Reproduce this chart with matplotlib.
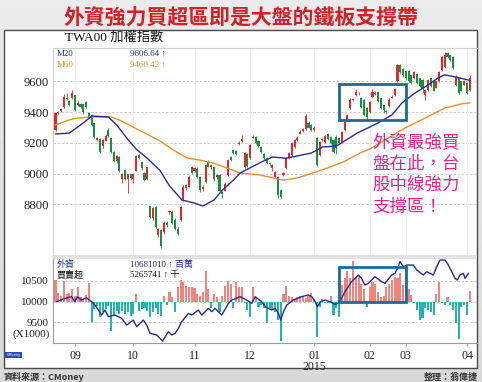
import numpy as np
import matplotlib
matplotlib.use("Agg")
import matplotlib.pyplot as plt
from matplotlib.patches import Rectangle

W, H = 482, 382


def fx(px):
    return px / W


def fy(py):
    return 1 - py / H


# 加權指數 K線 (依交易日順序: 開 收 高 低)
opens = [9284, 9392, 9418, 9436, 9495, 9475, 9490, 9512, 9450, 9451,
         9451, 9468, 9393, 9380, 9328, 9219, 9223, 9178, 9214, 9284,
         9230, 9143, 9084, 9106, 8967, 9023, 8968, 8995, 8968, 9019,
         9121, 9078, 9002, 8967, 8789, 8710, 8784, 8600, 8635, 8620,
         8680, 8750, 8752, 8700, 8640, 8698, 8828, 8925, 8915, 9040,
         9020, 9030, 8980, 8900, 8947, 9078, 9040, 9045, 8975, 8990,
         8880, 8890, 8991, 9110, 9154, 9150, 9190, 9210, 9043, 9130,
         9100, 9235, 9238, 9215, 9173, 9130, 9100, 9070, 9036, 8980,
         8978, 8893, 8990, 9036, 9102, 9121, 9173, 9220, 9260, 9280,
         9290, 9330, 9315, 9285, 9232, 9121, 9218, 9206, 9260, 9240,
         9219, 9240, 9230, 9206, 9284, 9349, 9427, 9478, 9512, 9522,
         9492, 9480, 9430, 9401, 9500, 9520, 9531, 9490, 9447, 9410,
         9440, 9495, 9512, 9600, 9707, 9680, 9670, 9670, 9640, 9623,
         9650, 9620, 9610, 9512, 9545, 9620, 9610, 9560, 9600, 9675,
         9695, 9786, 9770, 9760, 9578, 9623, 9600, 9580, 9590, 9545]
closes = [9394, 9398, 9410, 9497, 9485, 9447, 9527, 9414, 9460, 9432,
          9400, 9436, 9367, 9315, 9236, 9230, 9143, 9217, 9245, 9245,
          9143, 9084, 9115, 9019, 8997, 8967, 8995, 8970, 8997, 9115,
          9100, 9034, 8958, 9041, 8719, 8776, 8654, 8639, 8530, 8677,
          8665, 8755, 8676, 8640, 8610, 8784, 8915, 8905, 8980, 9004,
          9036, 8980, 8893, 8915, 9056, 9045, 9055, 8965, 8990, 8890,
          8865, 8935, 9088, 9090, 9132, 9130, 9200, 9225, 9134, 9050,
          9186, 9240, 9200, 9180, 9140, 9100, 9070, 9060, 9056, 9010,
          8860, 8850, 9004, 9100, 9134, 9200, 9219, 9235, 9270, 9290,
          9375, 9300, 9285, 9300, 9056, 9206, 9222, 9245, 9225, 9200,
          9141, 9170, 9200, 9271, 9336, 9382, 9480, 9484, 9531, 9526,
          9434, 9382, 9369, 9467, 9531, 9524, 9470, 9427, 9414, 9398,
          9480, 9500, 9551, 9707, 9660, 9640, 9620, 9600, 9590, 9662,
          9590, 9570, 9551, 9545, 9610, 9570, 9540, 9600, 9662, 9760,
          9773, 9760, 9740, 9685, 9630, 9525, 9540, 9600, 9525, 9623]
highs = [9400, 9410, 9425, 9519, 9522, 9480, 9545, 9515, 9470, 9458,
         9455, 9475, 9400, 9385, 9330, 9240, 9230, 9225, 9255, 9295,
         9235, 9150, 9120, 9112, 9005, 9030, 9000, 9000, 9005, 9120,
         9130, 9085, 9010, 9045, 8795, 8785, 8790, 8645, 8640, 8690,
         8690, 8765, 8760, 8710, 8650, 8790, 8925, 8935, 8990, 9050,
         9045, 9040, 8985, 8925, 9065, 9090, 9065, 9050, 9000, 8995,
         8885, 8945, 9095, 9115, 9160, 9155, 9210, 9250, 9140, 9135,
         9195, 9250, 9245, 9220, 9180, 9135, 9105, 9075, 9065, 9020,
         8985, 8900, 9010, 9105, 9140, 9205, 9225, 9245, 9284, 9300,
         9390, 9340, 9320, 9310, 9240, 9212, 9230, 9251, 9265, 9245,
         9225, 9250, 9240, 9278, 9345, 9390, 9490, 9492, 9548, 9532,
         9500, 9485, 9435, 9475, 9550, 9535, 9540, 9495, 9450, 9415,
         9490, 9510, 9560, 9715, 9712, 9685, 9675, 9675, 9645, 9670,
         9655, 9625, 9615, 9550, 9615, 9625, 9615, 9605, 9670, 9768,
         9790, 9795, 9775, 9765, 9640, 9628, 9605, 9608, 9595, 9640]
lows = [9278, 9385, 9400, 9430, 9480, 9440, 9485, 9405, 9440, 9425,
        9390, 9425, 9360, 9310, 9230, 9210, 9135, 9170, 9210, 9240,
        9135, 9075, 9070, 9010, 8936, 8960, 8872, 8960, 8940, 9015,
        9095, 9025, 8950, 8960, 8712, 8700, 8645, 8590, 8515, 8610,
        8655, 8740, 8670, 8630, 8600, 8690, 8820, 8895, 8910, 8995,
        9010, 8970, 8880, 8890, 8940, 9040, 9030, 8955, 8965, 8880,
        8841, 8885, 8985, 9085, 9125, 9120, 9185, 9205, 9035, 9040,
        9095, 9230, 9195, 9175, 9135, 9090, 9060, 9050, 9020, 8970,
        8841, 8840, 8985, 9030, 9095, 9115, 9165, 9215, 9255, 9270,
        9285, 9295, 9280, 9280, 9050, 9115, 9210, 9200, 9220, 9195,
        9135, 9125, 9195, 9200, 9280, 9345, 9420, 9470, 9505, 9515,
        9425, 9375, 9350, 9395, 9495, 9512, 9465, 9420, 9395, 9390,
        9435, 9490, 9505, 9595, 9650, 9630, 9612, 9595, 9585, 9618,
        9585, 9565, 9525, 9480, 9540, 9565, 9535, 9555, 9595, 9670,
        9690, 9755, 9735, 9680, 9570, 9520, 9535, 9575, 9520, 9540]

# 均線 (讀圖取點: 交易日序號, 指數)
ma20_idx = [0, 5, 10, 13, 19, 22, 25.6, 29, 33, 37.6, 41, 45.5, 50, 53, 57, 60,
            64, 66.4, 74, 78, 83, 92, 96, 101, 103.4, 108.5, 113, 116, 121,
            124.6, 129.3, 134, 137.6, 140, 143.7, 149]
ma20_val = [9258, 9264, 9330, 9375, 9369, 9317, 9232, 9160, 9100, 9020, 8920,
            8828, 8808, 8789, 8828, 8893, 8958, 9004, 9075, 9108, 9100, 9134,
            9173, 9180, 9206, 9264, 9303, 9330, 9382, 9460, 9525, 9577, 9623,
            9643, 9630, 9607]
ma60_idx = [0, 6, 12, 20, 23, 30, 37.6, 42.3, 47.3, 52, 56.7, 61.7, 66.4, 73.6,
            81.8, 86.9, 92.6, 97.7, 103.4, 109.5, 113, 118.5, 125.7, 133, 140,
            146.2, 149]
ma60_val = [9317, 9356, 9369, 9369, 9349, 9284, 9213, 9154, 9102, 9088, 9069,
            9036, 9004, 8991, 8958, 8971, 9004, 9036, 9075, 9134, 9160, 9219,
            9297, 9362, 9427, 9455, 9460]

# 外資買賣超 (相對 10000 基準)
net_buy = [532, 210, 145, 508, 185, 210, 307, 145, 347, 105,
           65, 161, 452, -500, -178, -97, -379, -242, -178, -97,
           -702, -339, -218, -299, -218, -299, -258, -339, -299, 185,
           -218, -178, -160, -225, -379, -242, -160, -285, -339, 129,
           -80, 242, 105, -260, 347, 532, 484, 387, 347, 347,
           323, 185, 145, 242, 750, 307, -161, 185, 105, -242,
           145, 387, 508, 428, -161, 468, 347, 347, -40, -202,
           -363, 347, 105, -121, -80, -161, -524, -161, -202, -242,
           -444, -944, 185, 387, 145, 105, 65, 105, 145, 105,
           81, 161, 210, 65, -863, -121, 65, -40, -40, 129,
           -323, -161, -363, 403, 565, 750, 565, 993, 605, 645,
           428, 307, -121, 347, 468, 428, 226, 105, 145, 347,
           428, 525, 605, 565, 684, 403, 870, 307, 161, -40,
           -202, -444, -404, -161, -202, -242, -323, 187, 468, -40,
           -80, 105, -80, -202, -524, -904, -121, -80, -323, 266]

# 外資持股曲線 (讀圖取點)
hold_idx = [0.4, 3.4, 5.8, 7, 7.8, 9.4, 11, 13, 14.2, 15.4, 16.6, 17.8, 19,
            21.4, 23.8, 25.6, 28, 29.2, 31.6, 32.8, 34, 36.4, 37.6, 38.5, 40.6,
            41.8, 43, 44.2, 45.4, 47.8, 49, 51.4, 52.6, 55, 56.2, 57.4, 59.8,
            62.2, 63.4, 66.4, 69.4, 70.6, 71.8, 74.2, 75.4, 77.8, 79, 80.2, 81,
            82, 83.2, 85.5, 88.5, 91, 92.2, 93.4, 94.2, 95.2, 97, 98.7, 100.5,
            101.7, 102.9, 104.1, 105.3, 106.5, 107.7, 108.9, 110.1, 111.3,
            112.5, 114.9, 117.3, 118.5, 120.9, 122.1, 123, 123.9, 125.1, 126.3,
            128.7, 129.9, 132.3, 133.5, 135.9, 137.1, 138.3, 140.1, 141.3,
            142.5, 143.7, 144.5, 145.5, 146.7, 147.3, 148.5]
hold_val = [10000, 10080, 10121, 10000, 10121, 10040, 10097, 10000, 9920, 9799,
            9678, 9799, 9638, 9678, 9598, 9436, 9557, 9396, 9557, 9436, 9235,
            9195, 9115, 9050, 9275, 9195, 9235, 9356, 9517, 9718, 9678, 9799,
            9678, 9839, 9759, 9839, 9678, 9960, 10040, 10121, 10016, 9960,
            10121, 10000, 9879, 9799, 9839, 9718, 9557, 9759, 9920, 10040,
            10121, 10161, 10121, 10000, 9879, 10000, 10040, 10000, 9936, 9960,
            10080, 10241, 10362, 10483, 10563, 10644, 10563, 10402, 10443,
            10604, 10483, 10443, 10644, 10684, 10805, 10966, 10845, 10885,
            10885, 10765, 10644, 10724, 10644, 10845, 11006, 11006, 10885,
            10724, 10563, 10523, 10644, 10684, 10563, 10684]

month_labels = ['09', '10', '11', '12', '01\n2015', '02', '03', '04']
month_start = [7, 28, 50, 70, 93, 113, 126, 148]
price_ticks = [8800, 9000, 9200, 9400, 9600]
flow_ticks = [9500, 10000, 10500]

serif = ['Liberation Serif', 'DejaVu Sans', 'Noto Sans CJK TC']
cjk = ['Noto Sans CJK TC', 'DejaVu Sans']
RED = '#e4262b'
GREEN = '#1d8c3e'
NAVY = '#2a2a92'
ORANGE = '#e8902a'
BOXC = '#1b6a98'

fig = plt.figure(figsize=(W / 100, H / 100), dpi=100)

# 背景與白底面板
bg = fig.add_axes([0, 0, 1, 1], zorder=-5)
bg.imshow(np.linspace(0.92, 0.85, 100).reshape(-1, 1), cmap='gray', vmin=0, vmax=1,
          aspect='auto', extent=[0, W, H, 0])
bg.add_patch(Rectangle((4, 30), 473, 338, fc='white', ec='#4a4a4a', lw=1))
bg.add_patch(Rectangle((53, 255), 424, 4, fc='#e2e2e2', ec='none'))
bg.set_xlim(0, W)
bg.set_ylim(H, 0)
bg.axis('off')

x = np.arange(len(opens))
o = np.array(opens)
c = np.array(closes)
cols = np.where(c >= o, RED, GREEN)

# 上圖: K線
ax = fig.add_axes([fx(53), fy(257), fx(477) - fx(53), (257 - 48) / H])
ax.set_facecolor('none')
for t in price_ticks:
    ax.axhline(t, color='#c4c4c4', lw=0.6, ls=(0, (3, 2)), zorder=0)
for m in month_start:
    ax.axvline(m, color='#ededed', lw=0.6, zorder=0)
ax.vlines(x, lows, highs, colors=cols, lw=0.6, zorder=2)
body = np.maximum(np.abs(c - o), 6)
ax.bar(x, body, bottom=np.minimum(o, c), width=0.75, color=cols, lw=0, zorder=3)
ax.plot(ma60_idx, ma60_val, color=ORANGE, lw=1.0, zorder=4)
ax.plot(ma20_idx, ma20_val, color=NAVY, lw=1.0, zorder=4)
ax.add_patch(Rectangle((102.1, 9349), 24, 235, fill=False, ec=BOXC, lw=2, zorder=5))
ax.set_xlim(-0.9, 151.6)
ax.set_ylim(8457, 9818)
ax.set_yticks(price_ticks)
ax.set_yticklabels([str(t) for t in price_ticks], family=serif, fontsize=9.2)
ax.set_xticks([])
ax.tick_params(axis='y', length=0, pad=3, colors='#222222')
for s in ['right', 'bottom']:
    ax.spines[s].set_visible(False)
for s in ['left', 'top']:
    ax.spines[s].set_color('#cfcfcf')
    ax.spines[s].set_linewidth(0.8)

# 下圖: 外資買賣超
ax2 = fig.add_axes([fx(53), fy(343), fx(477) - fx(53), (343 - 259) / H])
ax2.set_facecolor('none')
for t in flow_ticks:
    ax2.axhline(t, color='#c4c4c4', lw=0.6, ls=(0, (3, 2)), zorder=0)
nb = np.array(net_buy)
bcol = np.where(nb >= 0, '#f0837e', '#27b3ad')
ax2.bar(x, nb, bottom=10000, width=0.75, color=bcol, lw=0, zorder=2)
ax2.plot(hold_idx, hold_val, color=NAVY, lw=1.0, zorder=3)
ax2.add_patch(Rectangle((101.8, 9993), 24.4, 845, fill=False, ec=BOXC, lw=2, zorder=5))
ax2.set_xlim(-0.9, 151.6)
ax2.set_ylim(9003, 11031)
ax2.set_yticks(flow_ticks)
ax2.set_yticklabels([str(t) for t in flow_ticks], family=serif, fontsize=8)
ax2.set_xticks(month_start)
ax2.set_xticklabels(month_labels, family=serif, fontsize=8.5, linespacing=0.85)
ax2.tick_params(axis='y', length=0, pad=3, colors='#222222')
ax2.tick_params(axis='x', length=2, pad=3, colors='#222222', color='#aaaaaa')
ax2.spines['right'].set_visible(False)
ax2.spines['top'].set_visible(False)
for s in ['left', 'bottom']:
    ax2.spines[s].set_color('#9a9a9a')
    ax2.spines[s].set_linewidth(0.8)

# 文字
fig.text(fx(241), fy(17), '外資強力買超區即是大盤的鐵板支撐帶', family=cjk, fontsize=15,
         fontweight='bold', color='#d42027', ha='center', va='center')
fig.text(fx(65), fy(38), 'TWA00 加權指數', family=serif, fontsize=9.5, color='#111111',
         ha='left', va='center')
fig.text(fx(57), fy(54), 'M20', family=serif, fontsize=6.5, color=NAVY, va='center')
fig.text(fx(130), fy(54), '9606.64 ↑', family=serif, fontsize=6.5, color=NAVY, va='center')
fig.text(fx(57), fy(65), 'M60', family=serif, fontsize=6.5, color=ORANGE, va='center')
fig.text(fx(130), fy(65), '9460.43 ↑', family=serif, fontsize=6.5, color=ORANGE, va='center')
fig.text(fx(57), fy(264), '外資', family=cjk, fontsize=6.5, color=NAVY, va='center')
fig.text(fx(57), fy(275), '買賣超', family=cjk, fontsize=6.5, color='#111111', va='center')
fig.text(fx(130), fy(264), '10681010 ↑ 百萬', family=serif, fontsize=6.5, color=NAVY,
         va='center')
fig.text(fx(130), fy(275), '5265741 ↑ 千', family=serif, fontsize=6.5, color='#111111',
         va='center')
fig.text(fx(50), fy(334), '(X1000)', family=serif, fontsize=8, color='#222222',
         ha='right', va='center')
fig.text(fx(372), fy(174), '外資最強買\n盤在此，台\n股中線強力\n支撐區！', family=cjk,
         fontsize=12.6, color='#e8208a', ha='left', va='center', linespacing=1.25)

# 小標誌與頁尾
bg.add_patch(Rectangle((5, 352), 17, 6, fc='#2f4fb0', ec='none'))
bg.text(13.5, 355, 'CMoney', fontsize=2.5, color='white', ha='center', va='center')
fig.text(fx(4), fy(377), '資料來源：CMoney', family=cjk, fontsize=6.5, color='#333333',
         va='center', fontweight='bold')
fig.text(fx(478), fy(377), '整理：翁偉捷', family=cjk, fontsize=6.5, color='#333333',
         va='center', ha='right', fontweight='bold')

fig.savefig('out.png', dpi=100)
